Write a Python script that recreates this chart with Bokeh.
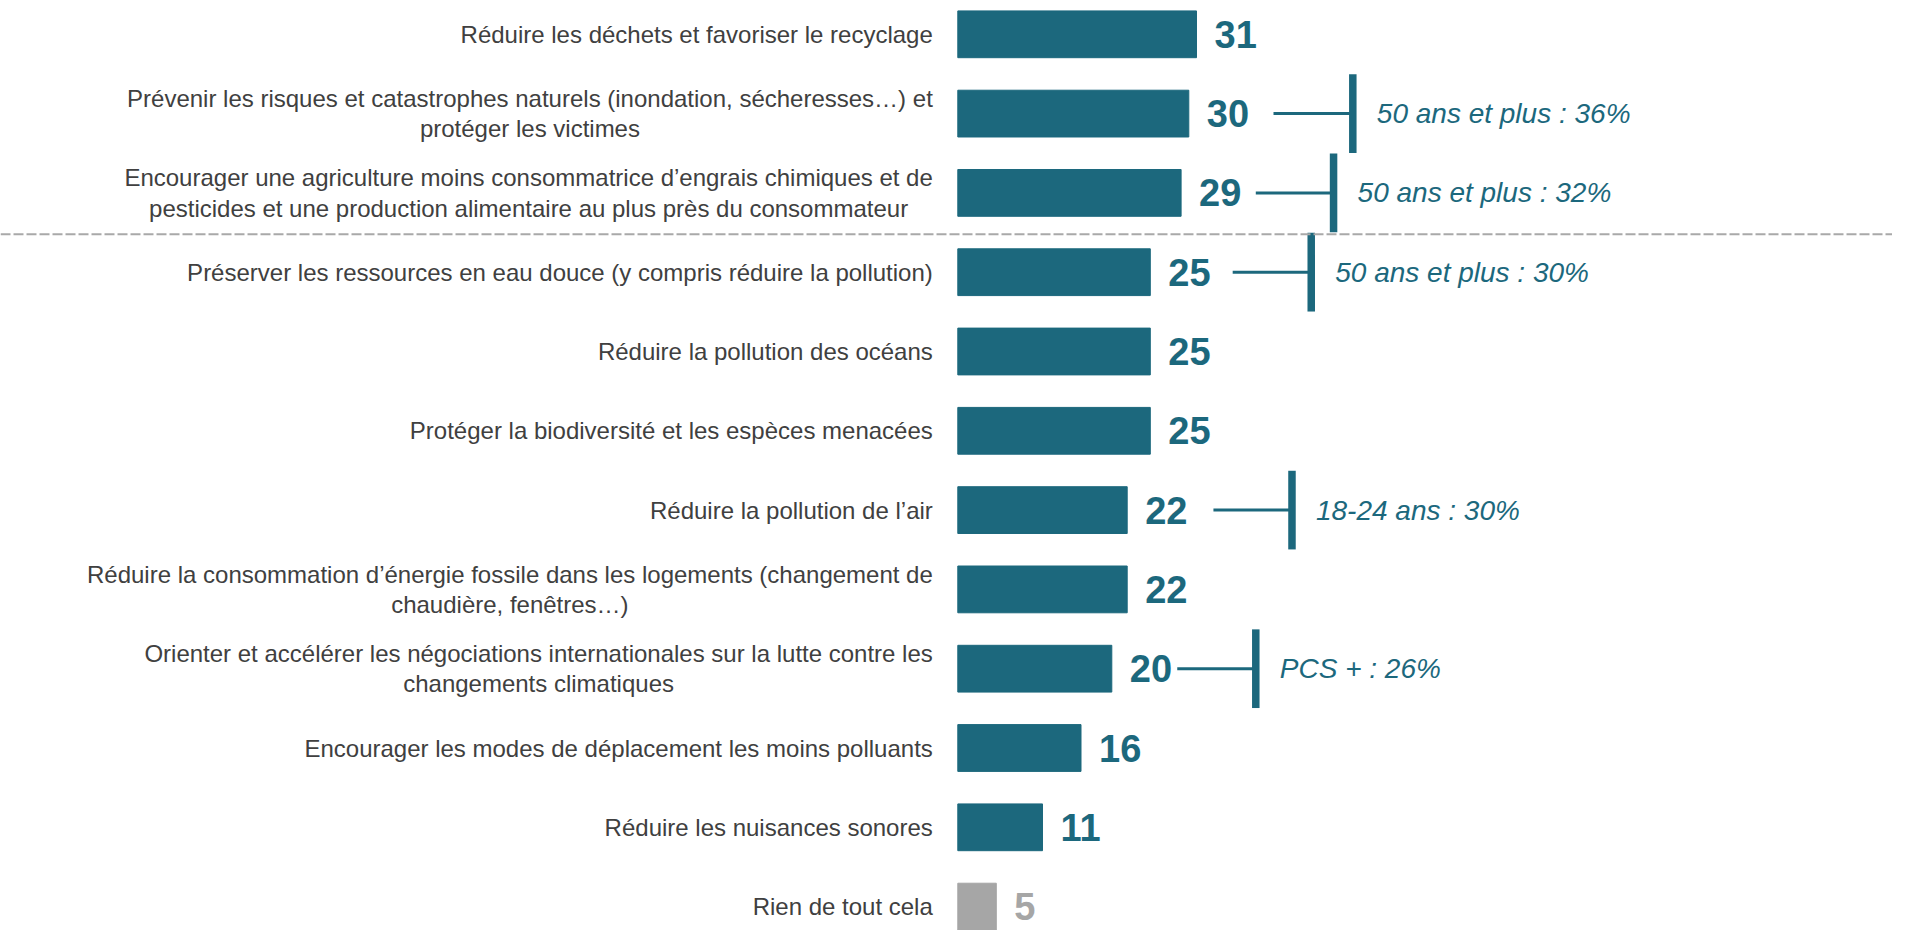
from bokeh.plotting import figure
from bokeh.models import Range1d, Span, ColumnDataSource
from bokeh.core.properties import value
from bokeh.embed import file_html
from bokeh.resources import INLINE

# ---- data ----
categories = [
    "Réduire les déchets et favoriser le recyclage",
    "Prévenir les risques et catastrophes naturels (inondation, sécheresses…) et\nprotéger les victimes",
    "Encourager une agriculture moins consommatrice d’engrais chimiques et de\npesticides et une production alimentaire au plus près du consommateur",
    "Préserver les ressources en eau douce (y compris réduire la pollution)",
    "Réduire la pollution des océans",
    "Protéger la biodiversité et les espèces menacées",
    "Réduire la pollution de l’air",
    "Réduire la consommation d’énergie fossile dans les logements (changement de\nchaudière, fenêtres…)",
    "Orienter et accélérer les négociations internationales sur la lutte contre les\nchangements climatiques",
    "Encourager les modes de déplacement les moins polluants",
    "Réduire les nuisances sonores",
    "Rien de tout cela",
]
values = [31, 30, 29, 25, 25, 25, 22, 22, 20, 16, 11, 5]

annot_rows = [1, 2, 3, 6, 8]
annot_texts = [
    "50 ans et plus : 36%",
    "50 ans et plus : 32%",
    "50 ans et plus : 30%",
    "18-24 ans : 30%",
    "PCS + : 26%",
]

# ---- layout constants (positions of annotation brackets, in value units) ----
annot_line_start = [41.0, 38.7, 35.7, 33.2, 28.5]
annot_line_end = [51.3, 48.8, 45.9, 43.4, 38.7]

TEAL = "#1C687D"
GREY = "#A6A6A6"
TEXT = "#404040"
FONT = value("Liberation Sans")

W, H = 1892, 930
PX_PER_UNIT = 7.7
ZERO_PX = 957.3
ROW0_PX = 33.8
ROW_PITCH = 79.3

n = len(categories)
rows = list(range(n))
colors = [TEAL] * (n - 1) + [GREY]

p = figure(
    width=W, height=H, output_backend="svg", toolbar_location=None,
    x_axis_type=None, y_axis_type=None,
    x_range=Range1d(-ZERO_PX / PX_PER_UNIT, (W - ZERO_PX) / PX_PER_UNIT),
    y_range=Range1d((H - ROW0_PX) / ROW_PITCH, -ROW0_PX / ROW_PITCH),
    min_border=0, min_border_left=0, min_border_right=0,
    min_border_top=0, min_border_bottom=0,
)
p.outline_line_color = None
p.grid.visible = False
p.background_fill_color = "white"
p.border_fill_color = "white"

src = ColumnDataSource(dict(y=rows, v=values, cat=categories, col=colors,
                            lab=[str(v) for v in values], zero=[0] * n))

p.hbar(y="y", left="zero", right="v", height=0.59, color="col", source=src)

# value labels
p.text(x="v", y="y", text="lab", source=src, x_offset=18,
       text_align="left", text_baseline="middle",
       text_font=FONT, text_font_style="bold", text_font_size="38px",
       text_color="col")

# category labels
p.text(x="zero", y="y", text="cat", source=src, x_offset=-25,
       anchor="center_right", text_align="center", text_baseline="middle",
       text_font=FONT, text_font_size="24px", text_color=TEXT,
       text_line_height=1.12)

# separator
p.add_layout(Span(location=2.52, dimension="width", line_color="#A9A9A9",
                  line_width=2, line_dash="10 3"))

# annotation brackets
asrc = ColumnDataSource(dict(
    y=annot_rows, x0=annot_line_start, x1=annot_line_end, txt=annot_texts,
    ytop=[r - 0.496 for r in annot_rows], ybot=[r + 0.496 for r in annot_rows],
))
p.segment(x0="x0", y0="y", x1="x1", y1="y", source=asrc,
          line_color=TEAL, line_width=3)
p.segment(x0="x1", y0="ytop", x1="x1", y1="ybot", source=asrc,
          line_color=TEAL, line_width=7.5)
p.text(x="x1", y="y", text="txt", source=asrc, x_offset=24,
       text_align="left", text_baseline="middle",
       text_font=FONT, text_font_style="italic", text_font_size="28px",
       text_color=TEAL)

open("out.html", "w").write(file_html(p, INLINE))
